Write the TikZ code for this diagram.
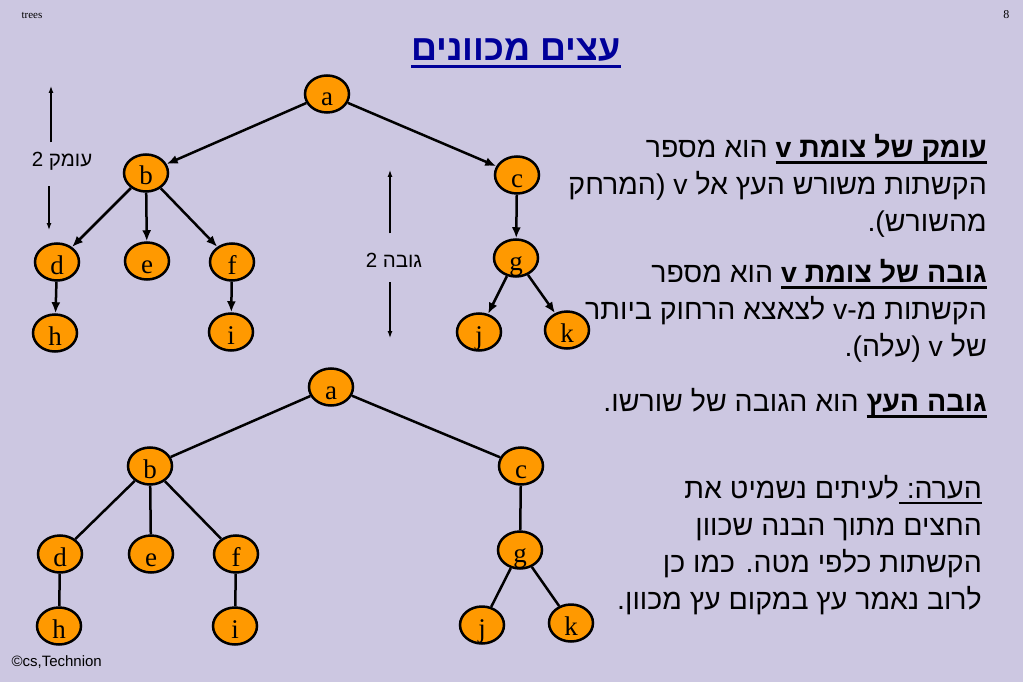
\documentclass[tikz,border=0pt]{standalone}
\usepackage{fontspec}
\setmainfont{Liberation Serif}
\newfontfamily\hebfont[Script=Hebrew]{Liberation Sans}
\newfontfamily\latinsans{Liberation Sans}
\TeXXeTstate=1
\usetikzlibrary{arrows.meta,shapes.geometric}

\definecolor{slidebg}{RGB}{204,199,225}
\definecolor{nodeorange}{RGB}{255,153,0}
\definecolor{titleblue}{RGB}{0,0,153}

% right-to-left line, and an underlined right-to-left piece
\newcommand{\rl}[1]{\beginR#1\endR}
\newcommand{\ulbox}[2][2.5pt]{\setbox0=\hbox{\beginR#2\endR}\dp0=0pt\vtop{\copy0\kern4pt\hrule height #1}}

\begin{document}
\begin{tikzpicture}[x=1pt,y=-1pt,
    vertex/.style={ellipse, draw=black, fill=nodeorange, line width=2.5pt,
      minimum width=44pt, minimum height=37pt, inner sep=0pt,
      text height=24pt, text depth=0pt, font=\fontsize{27}{30}\selectfont},
    treearrow/.style={line width=2.5pt, -{Latex[length=11pt,width=9pt]}},
    treeline/.style={line width=2.5pt},
    lblarrow/.style={line width=1.2pt, -{Latex[length=7pt,width=5pt]}},
    lbl/.style={font=\hebfont\fontsize{20.5}{22}\selectfont, anchor=base, inner sep=1pt},
    para/.style={font=\hebfont\fontsize{28.5}{37}\selectfont, align=right,
      anchor=base east, inner sep=0pt},
    titletext/.style={font=\hebfont\bfseries\fontsize{36}{40}\selectfont,
      text=titleblue, anchor=base, inner sep=0pt}]

  % Background
  \fill[slidebg] (0,0) rectangle (1023,682);
  \useasboundingbox (0,0) rectangle (1023,682);

  % Header and footer
  \node[anchor=base west, font=\fontsize{11}{13}\selectfont] (slidename) at (18,19) {trees};
  \node[anchor=base east, font=\fontsize{12}{14}\selectfont] (slideno) at (1013,19) {8};
  \node[anchor=base west, font=\latinsans\fontsize{15}{17}\selectfont] (credit) at (8,666) {©cs,Technion};

  % Title
  \node[titletext] (title) at (516,61) {\rl{\ulbox[3pt]{עצים מכוונים}}};

  % Directed tree
  \foreach \n/\x/\y in {a/327/94, b/146/173, c/517/175, d/57/262, e/147/261,
      f/232/262, g/516/258, h/55/333, i/231/332, j/479/332, k/567/330}
    \node[vertex] (d\n) at (\x,\y) {\n};
  \foreach \p/\c in {a/b, a/c, b/d, b/e, b/f, d/h, f/i, c/g, g/j, g/k}
    \draw[treearrow] (d\p) -- (d\c);

  % Depth and height markers
  \node[lbl] (depthlbl) at (62,167) {\rl{עומק 2}};
  \coordinate (depthtop) at (51,86);
  \coordinate (depthbot) at (49,230);
  \draw[lblarrow] (depthlbl.north -| depthtop) ++(0,-9) -- (depthtop);
  \draw[lblarrow] (depthlbl.south -| depthbot) ++(0,14) -- (depthbot);

  \node[lbl] (heightlbl) at (394,267) {\rl{גובה 2}};
  \coordinate (heighttop) at (390,170);
  \coordinate (heightbot) at (390,338);
  \draw[lblarrow] (heightlbl.north -| heighttop) ++(0,-18) -- (heighttop);
  \draw[lblarrow] (heightlbl.south -| heightbot) ++(0,14) -- (heightbot);

  % Undirected tree
  \foreach \n/\x/\y in {a/331/387, b/150/466, c/521/466, d/60/554, e/151/554,
      f/236/554, g/520/550, h/59/626, i/235/626, j/482/625, k/571/623}
    \node[vertex] (u\n) at (\x,\y) {\n};
  \foreach \p/\c in {a/b, a/c, b/d, b/e, b/f, d/h, f/i, c/g, g/j, g/k}
    \draw[treeline] (u\p) -- (u\c);

  % Definitions (anchored at the baseline of the last line)
  \node[para] (depthdef) at (987,231) {\rl{\ulbox{\textbf{עומק של צומת v}} הוא מספר}\\
    \rl{הקשתות משורש העץ אל v (המרחק}\\
    \rl{מהשורש).}};
  \node[para] (heightdef) at (987,356) {\rl{\ulbox{\textbf{גובה של צומת v}} הוא מספר}\\
    \rl{הקשתות מ-v לצאצא הרחוק ביותר}\\
    \rl{של v (עלה).}};
  \node[para] (treeheight) at (987,411) {\rl{\ulbox{\textbf{גובה העץ}} הוא הגובה של שורשו.}};
  \node[para] (remark) at (982,609) {\rl{\ulbox[1.5pt]{הערה:\ }לעיתים נשמיט את}\\
    \rl{החצים מתוך הבנה שכוון}\\
    \rl{הקשתות כלפי מטה. כמו כן}\\
    \rl{לרוב נאמר עץ במקום עץ מכוון.}};
\end{tikzpicture}
\end{document}
